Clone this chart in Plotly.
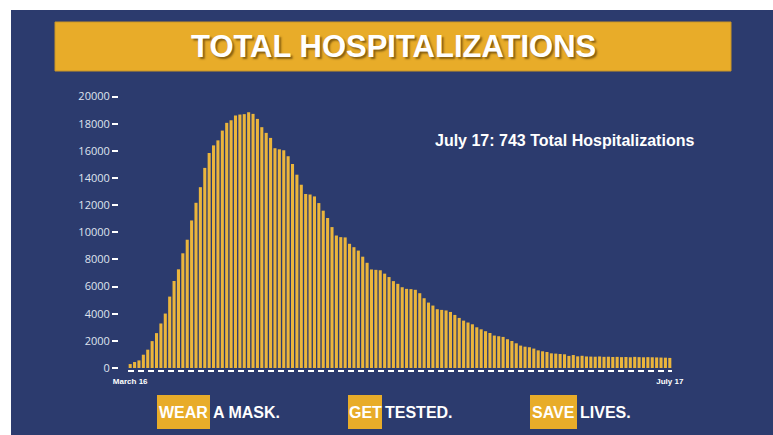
import plotly.graph_objects as go
import pandas as pd

# ---- data ----
dates = [d.strftime("%Y-%m-%d") for d in pd.date_range("2020-03-16", "2020-07-17")]
hospitalizations = [
    290, 440, 560, 980, 1350, 1980, 2570, 3280, 4010, 5260, 6410, 7270, 8450, 9450,
    10870, 12170, 13320, 14740, 15840, 16400, 16770,
    17490, 18060, 18250, 18600, 18670, 18700, 18840, 18720, 18350, 17740, 17320,
    16950, 16190, 16110, 16040, 15600, 15030, 14240, 13500, 12820, 12780, 12640,
    12150, 11590, 11050, 10380, 9760, 9640, 9620, 9150,
    8900, 8650, 8200, 7750, 7260, 7230, 7200, 6950, 6700, 6400, 6200, 5950,
    5830, 5810, 5760, 5510, 5140, 4820, 4600, 4330, 4280, 4240, 4130, 3910, 3690,
    3490, 3350, 3220, 3000, 2850, 2710, 2580, 2390, 2340, 2290, 2120, 1990, 1820,
    1650, 1570, 1530, 1430, 1300, 1230, 1180, 1080, 1060, 1030, 1010, 890, 955,
    860, 900,
    850, 840, 830, 850, 820, 830, 810, 820, 800, 810, 790, 820, 800, 790, 800,
    790, 780, 770, 760, 743,
]
y_ticks = list(range(0, 20001, 2000))
x_tick_labels = ["March 16", "July 17"]
title_text = "TOTAL HOSPITALIZATIONS"
callout = f"July 17: {hospitalizations[-1]} Total Hospitalizations"
slogans = [("WEAR", "A MASK."), ("GET", "TESTED."), ("SAVE", "LIVES.")]

W, H = 773, 435
def px(x):
    return x / W
def py(y):
    return 1 - y / H

BLUE = "#2c3b6e"
GOLD = "#e8ac29"
BAR = "#ebb53c"
BOLDFONT = "Liberation Sans, Arial, sans-serif"

# y-axis mapping: 0 at y=368px, 20000 at y=96.5px
k = (368 - 96.5) / 20000
y_bottom_px, y_top_px = 375, 90
y_range = [-(y_bottom_px - 368) / k, (368 - y_top_px) / k]

fig = go.Figure()
fig.add_trace(go.Bar(
    x=dates, y=hospitalizations, marker=dict(color=BAR, line=dict(width=0)),
    width=0.7, hoverinfo="x+y",
))

shapes = [
    dict(type="rect", xref="paper", yref="paper", x0=px(11), x1=1, y0=0, y1=py(10),
         fillcolor=BLUE, line=dict(width=0), layer="below"),
    dict(type="rect", xref="paper", yref="paper", x0=px(55), x1=px(731), y0=py(71), y1=py(22),
         fillcolor=GOLD, line=dict(color="#c99526", width=1), layer="below"),
    dict(type="line", xref="x", yref="y", x0=-0.5, x1=len(dates) - 0.5,
         y0=-(371 - 368) / k, y1=-(371 - 368) / k,
         line=dict(color="white", width=2, dash="6px,4px")),
]

annotations = [
    dict(text=title_text, x=px(393), y=py(47), xref="paper", yref="paper",
         showarrow=False, xanchor="center", yanchor="middle",
         font=dict(family=BOLDFONT, size=31, color="white", weight="bold",
                   shadow="2px 2px 2px rgba(70,45,0,0.6)")),
    dict(text=callout, x=px(433), y=py(140), xref="paper", yref="paper",
         showarrow=False, xanchor="left", yanchor="middle",
         font=dict(family=BOLDFONT, size=16, color="white", weight="bold")),
]

# slogan boxes (left, right) in pixels
boxes = [(157, 210), (348, 382), (530, 577)]
for (hl, rest), (bx0, bx1) in zip(slogans, boxes):
    shapes.append(dict(type="rect", xref="paper", yref="paper", x0=px(bx0), x1=px(bx1),
                       y0=py(429), y1=py(395), fillcolor=GOLD, line=dict(width=0)))
    annotations.append(dict(text=hl, x=px((bx0 + bx1) / 2), y=py(412.5), xref="paper", yref="paper",
                            showarrow=False, xanchor="center", yanchor="middle",
                            font=dict(family=BOLDFONT, size=16, color="white", weight="bold")))
    annotations.append(dict(text=rest, x=px(bx1 + 1), y=py(412.5), xref="paper", yref="paper",
                            showarrow=False, xanchor="left", yanchor="middle",
                            font=dict(family=BOLDFONT, size=16, color="white", weight="bold")))

fig.update_layout(
    width=W, height=H, margin=dict(l=0, r=0, t=0, b=0, autoexpand=False),
    paper_bgcolor="white", plot_bgcolor="rgba(0,0,0,0)",
    showlegend=False, bargap=0.3,
    shapes=shapes, annotations=annotations,
    xaxis=dict(domain=[px(128), px(672)], type="category", range=[-0.5, len(dates) - 0.5],
               tickvals=[dates[0], dates[-1]], ticktext=x_tick_labels, automargin=False,
               showgrid=False, zeroline=False, showline=False, ticks="",
               tickfont=dict(family=BOLDFONT, size=8, color="white", weight="bold")),
    yaxis=dict(domain=[py(y_bottom_px), py(y_top_px)], range=y_range, automargin=False,
               anchor="free", position=px(118), tickformat="d",
               tickvals=y_ticks, ticks="outside", ticklen=6, tickwidth=1.5, tickcolor="white",
               showgrid=False, zeroline=False, showline=False,
               tickfont=dict(family="Open Sans, sans-serif", size=11, color="#dfe3ee")),
)

fig.write_html("out.html", config={"displayModeBar": False},
               post_script="document.body.style.margin='0';")
